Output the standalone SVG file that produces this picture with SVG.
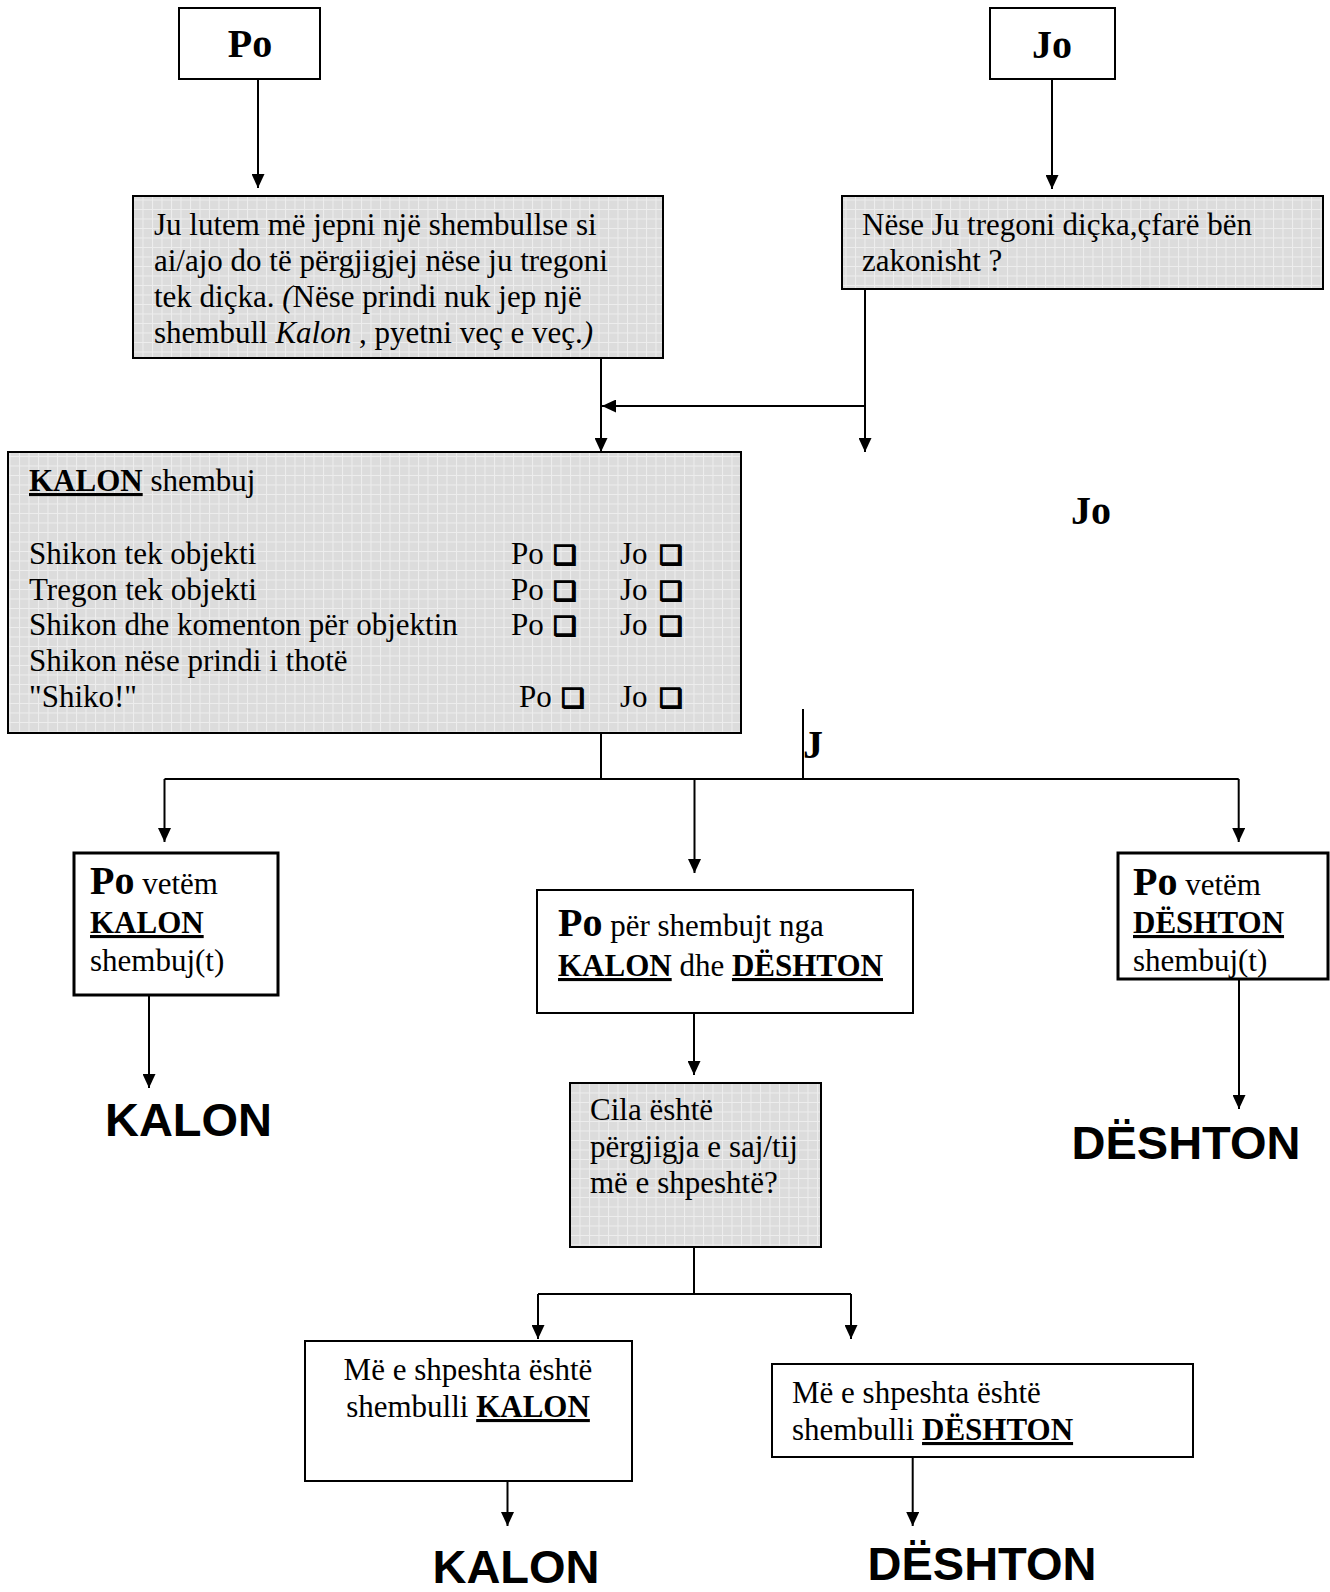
<svg xmlns="http://www.w3.org/2000/svg" width="1330" height="1592" viewBox="0 0 1330 1592">
<style>
text{font-family:"Liberation Serif","Times New Roman",serif;font-size:31px;fill:#000}
.b{font-weight:bold}
.big{font-size:40px;font-weight:bold}
.u{text-decoration:underline}
.i{font-style:italic}
.sans{font-family:"Liberation Sans",Arial,sans-serif;font-size:47px;font-weight:bold}
.cb{font-family:"DejaVu Sans",sans-serif;font-size:26px;font-weight:bold;stroke:#000;stroke-width:1.6}
.box{fill:#fff;stroke:#000;stroke-width:2}
.thick{fill:#fff;stroke:#000;stroke-width:3}
.gray{fill:url(#grid);stroke:#000;stroke-width:2}
.c{fill:none;stroke:#000;stroke-width:2}
.a{fill:none;stroke:#000;stroke-width:2;marker-end:url(#ah)}
</style>
<defs>
<pattern id="grid" width="9.5" height="9.5" patternUnits="userSpaceOnUse">
<rect width="9.5" height="9.5" fill="#dcdcdc"/>
<path d="M0 0.5H9.5M0.5 0V9.5" stroke="#ededed" stroke-width="1"/>
</pattern>
<marker id="ah" viewBox="0 0 14 13" refX="14" refY="6.5" markerWidth="14" markerHeight="13" markerUnits="userSpaceOnUse" orient="auto">
<path d="M0 0L14 6.5L0 13Z" fill="#000"/>
</marker>
</defs>
<rect width="1330" height="1592" fill="#fff"/>

<g id="connectors">
<line class="a" x1="258" y1="79" x2="258" y2="188"/>
<line class="a" x1="1052" y1="79" x2="1052" y2="189"/>
<line class="a" x1="865" y1="289" x2="865" y2="452"/>
<line class="a" x1="865" y1="406" x2="602" y2="406"/>
<line class="a" x1="601" y1="358" x2="601" y2="452"/>
<line class="c" x1="601" y1="733" x2="601" y2="779"/>
<line class="c" x1="164.5" y1="779" x2="1238.7" y2="779"/>
<line class="c" x1="803" y1="709" x2="803" y2="779"/>
<line class="a" x1="164.5" y1="779" x2="164.5" y2="842"/>
<line class="a" x1="694.5" y1="779" x2="694.5" y2="873"/>
<line class="a" x1="1238.7" y1="779" x2="1238.7" y2="842"/>
<line class="a" x1="149" y1="995" x2="149" y2="1088"/>
<line class="a" x1="1239" y1="980" x2="1239" y2="1109"/>
<line class="a" x1="694" y1="1013" x2="694" y2="1075"/>
<polyline class="c" points="694,1247 694,1294"/>
<line class="c" x1="538" y1="1294" x2="851" y2="1294"/>
<line class="a" x1="538" y1="1294" x2="538" y2="1339"/>
<line class="a" x1="851" y1="1294" x2="851" y2="1339"/>
<line class="a" x1="507.5" y1="1457" x2="507.5" y2="1526"/>
<line class="a" x1="912.7" y1="1457" x2="912.7" y2="1526"/>
</g>

<g id="node-po">
<rect class="box" x="179" y="8" width="141" height="71"/>
<text class="big" x="250" y="57" text-anchor="middle">Po</text>
</g>
<g id="node-jo">
<rect class="box" x="990" y="8" width="125" height="71"/>
<text class="big" x="1052" y="58" text-anchor="middle">Jo</text>
</g>

<g id="node-ask">
<rect class="gray" x="133" y="196" width="530" height="162"/>
<text x="154" y="235">Ju lutem më jepni një shembullse si</text>
<text x="154" y="271">ai/ajo do të përgjigjej nëse ju tregoni</text>
<text x="154" y="307">tek diçka. <tspan class="i">(</tspan>Nëse prindi nuk jep një</text>
<text x="154" y="343">shembull <tspan class="i">Kalon</tspan> , pyetni veç e veç.<tspan class="i">)</tspan></text>
</g>

<g id="node-usual">
<rect class="gray" x="842" y="196" width="481" height="93"/>
<text x="862" y="235">Nëse Ju tregoni diçka,çfarë bën</text>
<text x="862" y="271">zakonisht ?</text>
</g>

<g id="label-jo">
<text class="big" x="1091" y="524" text-anchor="middle">Jo</text>
</g>
<g id="label-j">
<text class="big" x="803" y="758">J</text>
</g>

<g id="node-kalon-examples">
<rect class="gray" x="8" y="452" width="733" height="281"/>
<text x="29" y="491"><tspan class="b u">KALON</tspan> shembuj</text>
<text x="29" y="564">Shikon tek objekti</text>
<text x="29" y="600">Tregon tek objekti</text>
<text x="29" y="635">Shikon dhe komenton për objektin</text>
<text x="29" y="671">Shikon nëse prindi i thotë</text>
<text x="29" y="707">"Shiko!"</text>
<text y="564"><tspan x="511">Po</tspan><tspan class="cb" x="553">❑</tspan><tspan x="620">Jo</tspan><tspan class="cb" x="659">❑</tspan></text>
<text y="600"><tspan x="511">Po</tspan><tspan class="cb" x="553">❑</tspan><tspan x="620">Jo</tspan><tspan class="cb" x="659">❑</tspan></text>
<text y="635"><tspan x="511">Po</tspan><tspan class="cb" x="553">❑</tspan><tspan x="620">Jo</tspan><tspan class="cb" x="659">❑</tspan></text>
<text y="707"><tspan x="519">Po</tspan><tspan class="cb" x="561">❑</tspan><tspan x="620">Jo</tspan><tspan class="cb" x="659">❑</tspan></text>
</g>

<g id="node-only-kalon">
<rect class="thick" x="74" y="853" width="204" height="142"/>
<text x="90" y="894"><tspan class="big">Po</tspan> vetëm</text>
<text class="b u" x="90" y="933">KALON</text>
<text x="90" y="971">shembuj(t)</text>
</g>

<g id="node-both">
<rect class="box" x="537" y="890" width="376" height="123"/>
<text x="558" y="936"><tspan class="big">Po</tspan> për shembujt nga</text>
<text x="558" y="976"><tspan class="b u">KALON</tspan> dhe <tspan class="b u">DËSHTON</tspan></text>
</g>

<g id="node-only-deshton">
<rect class="thick" x="1118" y="853" width="210" height="126"/>
<text x="1133" y="895"><tspan class="big">Po</tspan> vetëm</text>
<text class="b u" x="1133" y="933">DËSHTON</text>
<text x="1133" y="971">shembuj(t)</text>
</g>

<g id="result-kalon-1">
<text class="sans" x="188.5" y="1136" text-anchor="middle">KALON</text>
</g>
<g id="result-deshton-1">
<text class="sans" x="1186" y="1159" text-anchor="middle">DËSHTON</text>
</g>

<g id="node-which">
<rect class="gray" x="570" y="1083" width="251" height="164"/>
<text x="590" y="1120">Cila është</text>
<text x="590" y="1157">përgjigja e saj/tij</text>
<text x="590" y="1193">më e shpeshtë?</text>
</g>

<g id="node-freq-kalon">
<rect class="box" x="305" y="1341" width="327" height="140"/>
<text x="468" y="1380" text-anchor="middle">Më e shpeshta është</text>
<text x="468" y="1417" text-anchor="middle">shembulli <tspan class="b u">KALON</tspan></text>
</g>

<g id="node-freq-deshton">
<rect class="box" x="772" y="1364" width="421" height="93"/>
<text x="792" y="1403">Më e shpeshta është</text>
<text x="792" y="1440">shembulli <tspan class="b u">DËSHTON</tspan></text>
</g>

<g id="result-kalon-2">
<text class="sans" x="516" y="1583" text-anchor="middle">KALON</text>
</g>
<g id="result-deshton-2">
<text class="sans" x="982" y="1580" text-anchor="middle">DËSHTON</text>
</g>
</svg>
